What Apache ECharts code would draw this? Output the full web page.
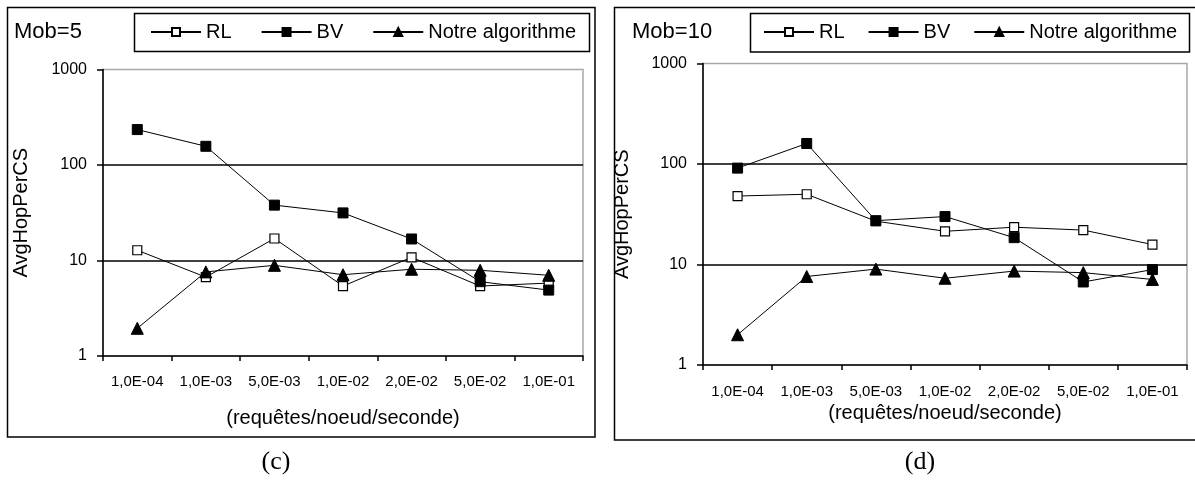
<!DOCTYPE html>
<html><head><meta charset="utf-8">
<script src="https://cdn.jsdelivr.net/npm/echarts@6/dist/echarts.min.js"></script>
<style>html,body{margin:0;padding:0;background:#fff}#c{width:1195px;height:486px}</style>
</head><body><div id="c"></div>
<script>
const categories = ['1,0E-04','1,0E-03','5,0E-03','1,0E-02','2,0E-02','5,0E-02','1,0E-01'];
const seriesNames = ['RL','BV','Notre algorithme'];
const mob5_RL    = [12.8, 6.7, 17, 5.4, 10.8, 5.4, 5.8];
const mob5_BV    = [235, 157, 38, 31.5, 16.8, 6.0, 4.9];
const mob5_Notre = [1.95, 7.6, 8.9, 7.1, 8.1, 7.9, 7.0];
const mob10_RL    = [48, 50, 27, 21.4, 23.5, 22, 15.8];
const mob10_BV    = [91, 160, 27.3, 30, 18.5, 6.7, 8.9];
const mob10_Notre = [2.0, 7.6, 9.0, 7.3, 8.6, 8.3, 7.1];
const panelTitles = ['Mob=5','Mob=10'];
const captions = ['(c)','(d)'];
const xName = '(requêtes/noeud/seconde)';
const yName = 'AvgHopPerCS';

const FONT = '"Liberation Sans", Arial, sans-serif';
const SERIF = '"Liberation Serif", "Times New Roman", serif';
const chart = echarts.init(document.getElementById('c'), null, {renderer:'canvas'});

function xAxis(gi, labelMargin, nameGap){
  return {type:'category', gridIndex:gi, data:categories, boundaryGap:true,
    name:xName, nameLocation:'middle', nameGap:nameGap,
    nameTextStyle:{fontFamily:FONT,fontSize:20,color:'#000'},
    axisLine:{show:true,lineStyle:{color:'#000',width:1.5}},
    axisTick:{show:true,length:5,alignWithLabel:false,lineStyle:{color:'#000',width:1.5}},
    axisLabel:{fontFamily:FONT,fontSize:15,color:'#000',margin:labelMargin,interval:0},
    splitLine:{show:false}};
}
function yAxis(gi, nameGap){
  return {type:'log', logBase:10, min:1, max:1000, gridIndex:gi,
    name:yName, nameLocation:'middle', nameRotate:90, nameGap:nameGap,
    nameTextStyle:{fontFamily:FONT,fontSize:20,color:'#000'},
    axisLine:{show:true,lineStyle:{color:'#000',width:1.5}},
    axisTick:{show:true,length:6,lineStyle:{color:'#000',width:1.5}},
    axisLabel:{fontFamily:FONT,fontSize:16,color:'#000',margin:16,
      formatter:(v)=>String(Math.round(v))},
    minorTick:{show:false}, minorSplitLine:{show:false},
    splitLine:{show:true,showMinLine:false,showMaxLine:false,lineStyle:{color:'#000',width:1.5}}};
}
const styles = {
  'RL': {symbol:'rect', symbolSize:9, itemStyle:{color:'#fff',borderColor:'#000',borderWidth:1.2}},
  'BV': {symbol:'rect', symbolSize:10, itemStyle:{color:'#000',borderColor:'#000',borderWidth:1}},
  'Notre algorithme': {symbol:'triangle', symbolSize:12, itemStyle:{color:'#000',borderColor:'#000',borderWidth:1}}
};
function line(name, data, gi){
  const s = styles[name];
  return {type:'line', name, data, xAxisIndex:gi, yAxisIndex:gi,
    symbol:s.symbol, symbolSize:s.symbolSize, itemStyle:s.itemStyle,
    lineStyle:{color:'#000',width:1}, showSymbol:true, silent:true,
    emphasis:{disabled:true}, animation:false, z:3};
}
function legend(left, gap){
  return {left:left, top:22, itemWidth:50, itemHeight:10, itemGap:gap, padding:0,
    selectedMode:false, data:seriesNames,
    textStyle:{fontFamily:FONT,fontSize:20,color:'#000'}};
}
const txt = (x,y,t,size,font,align)=>({type:'text', x, y, silent:true,
  style:{text:t, fill:'#000', font:size+'px '+font, textAlign:align||'left', textVerticalAlign:'middle'}});
const rect = (x,y,w,h,lw)=>({type:'rect', silent:true, shape:{x,y,width:w,height:h},
  style:{fill:'none', stroke:'#000', lineWidth:lw}});

chart.setOption({
  animation:false,
  backgroundColor:'#fff',
  grid:[
    {left:103, top:69.5, width:480, height:286.5, show:true, borderColor:'#a8a8a8', borderWidth:1.5, backgroundColor:'transparent'},
    {left:703, top:63.5, width:484, height:301.5, show:true, borderColor:'#a8a8a8', borderWidth:1.5, backgroundColor:'transparent'}
  ],
  xAxis:[xAxis(0,18,52), xAxis(1,19,38)],
  yAxis:[yAxis(0,72), yAxis(1,71)],
  legend:[legend(150,29), legend(763,23)],
  series:[
    line('RL', mob5_RL, 0), line('BV', mob5_BV, 0), line('Notre algorithme', mob5_Notre, 0),
    line('RL', mob10_RL, 1), line('BV', mob10_BV, 1), line('Notre algorithme', mob10_Notre, 1)
  ],
  graphic:[
    rect(7.5,7.5,587.5,429.5,1.5),
    rect(614.5,7.5,600,432.5,1.5),
    rect(134.5,13.5,455,38,1.5),
    rect(750.5,13.5,439,38.5,1.5),
    txt(14,32,panelTitles[0],22,FONT),
    txt(632,32,panelTitles[1],22,FONT),
    txt(276,462,captions[0],26,SERIF,'center'),
    txt(920,462,captions[1],26,SERIF,'center')
  ]
});
</script></body></html>
